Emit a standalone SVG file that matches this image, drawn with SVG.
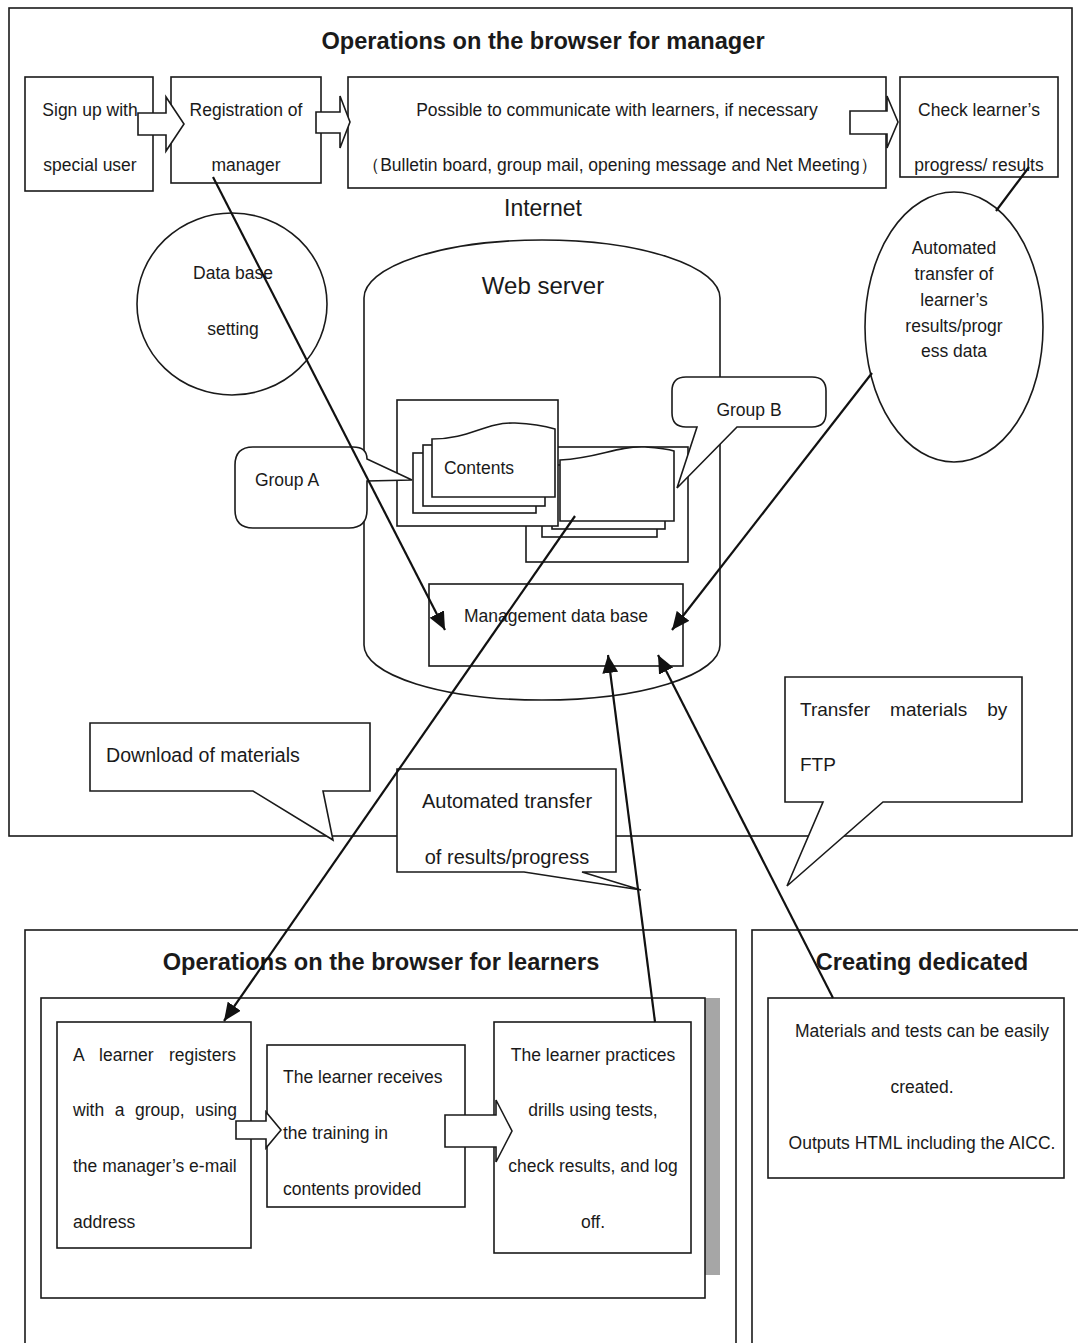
<svg xmlns="http://www.w3.org/2000/svg" width="1078" height="1343" viewBox="0 0 1078 1343">
<style>
text{font-family:"Liberation Sans",Arial,sans-serif;fill:#1a1a1a}
.t{font-size:17.5px}
.m{text-anchor:middle}
.h{font-size:23.6px;font-weight:bold;text-anchor:middle}
.b{fill:#fff;stroke:#1a1a1a;stroke-width:1.6}
.f{fill:none;stroke:#1a1a1a;stroke-width:1.6}
.c{fill:none;stroke:#111;stroke-width:2.2}
</style>
<defs>
<marker id="ah" markerUnits="userSpaceOnUse" markerWidth="20" markerHeight="16" refX="18" refY="8" orient="auto">
<path d="M0,0 L18,8 L0,16 Z" fill="#111"/>
</marker>
</defs>
<rect width="1078" height="1343" fill="#fff"/>

<g id="manager-frame">
<rect x="9" y="8" width="1063" height="828" class="f"/>
<text x="543" y="49" class="h">Operations on the browser for manager</text>
</g>

<g id="signup">
<rect x="25" y="77" width="128" height="114" class="b"/>
<text x="90" y="116" class="t m">Sign up with</text>
<text x="90" y="171" class="t m">special user</text>
</g>
<g id="registration">
<rect x="171" y="77" width="150" height="106" class="b"/>
<text x="246" y="116" class="t m">Registration of</text>
<text x="246" y="171" class="t m">manager</text>
</g>
<g id="communicate">
<rect x="348" y="77" width="538" height="111" class="b"/>
<text x="617" y="116" class="t m">Possible to communicate with learners, if necessary</text>
<text x="620" y="171" class="t m">（Bulletin board, group mail, opening message and Net Meeting）</text>
</g>
<g id="check">
<rect x="900" y="77" width="158" height="100" class="b"/>
<text x="979" y="116" class="t m">Check learner’s</text>
<text x="979" y="171" class="t m">progress/ results</text>
</g>
<g id="arrow-1"><polygon points="138,113 166,113 166,97 184,124 166,151 166,135 138,135" class="b"/></g>
<g id="arrow-2"><polygon points="316,112 340,112 340,96 350,122 340,148 340,133 316,133" class="b"/></g>
<g id="arrow-3"><polygon points="850,111 887,111 887,96 898,122 887,148 887,134 850,134" class="b"/></g>

<g id="internet"><text x="543" y="216" font-size="23" class="m">Internet</text></g>

<g id="dbsetting">
<ellipse cx="232" cy="304" rx="95" ry="91" class="b"/>
<text x="233" y="279" class="t m">Data base</text>
<text x="233" y="335" class="t m">setting</text>
</g>

<g id="webserver">
<path d="M364,298 L364,645 A178,55 0 0 0 720,645 L720,298" class="b"/>
<path d="M364,298 A178,58 0 0 1 720,298" class="f"/>
<text x="543" y="294" font-size="24" class="m">Web server</text>
</g>

<g id="groupB">
<rect x="526" y="447" width="162" height="115" class="b"/>
<rect x="542" y="470" width="115" height="67" class="b"/>
<rect x="552" y="465" width="113" height="64" class="b"/>
<path d="M560,460 C600,458 615,446 645,447 C660,448 668,449 674,451 L674,521 L560,521 Z" class="b"/>
</g>

<g id="groupA">
<rect x="397" y="400" width="161" height="126" class="b"/>
<rect x="413" y="453" width="123" height="60" class="b"/>
<rect x="423" y="445" width="122" height="61" class="b"/>
<path d="M432,439 C470,439 485,422 515,423 C535,424 548,427 555,429 L555,497 L432,497 Z" class="b"/>
<text x="479" y="474" class="t m">Contents</text>
</g>

<g id="callout-groupA">
<path d="M253,447 H353 Q367,447 367,459 L412,480 L367,481 V510 Q367,528 349,528 H253 Q235,528 235,510 V465 Q235,447 253,447 Z" class="b"/>
<text x="287" y="486" class="t m">Group A</text>
</g>
<g id="callout-groupB">
<path d="M686,377 H812 Q826,377 826,391 V413 Q826,427 812,427 H737 L677,488 L697,427 H686 Q672,427 672,413 V391 Q672,377 686,377 Z" class="b"/>
<text x="749" y="416" class="t m">Group B</text>
</g>

<g id="mgmtdb">
<rect x="429" y="584" width="254" height="82" class="b"/>
<text x="556" y="622" class="t m">Management data base</text>
</g>

<g id="autotransfer-ellipse">
<ellipse cx="954" cy="327" rx="89" ry="135" class="b"/>
<text x="954" y="254" class="t m">Automated</text>
<text x="954" y="280" class="t m">transfer of</text>
<text x="954" y="306" class="t m">learner’s</text>
<text x="954" y="332" class="t m">results/progr</text>
<text x="954" y="357" class="t m">ess data</text>
</g>

<g id="callout-download">
<path d="M90,723 H370 V791 H323 L333,840 L253,791 H90 Z" class="b"/>
<text x="106" y="762" font-size="19.6">Download of materials</text>
</g>
<g id="callout-results">
<path d="M397,769 H616 V872 H582 L641,890 L524,872 H397 Z" class="b"/>
<text x="507" y="808" font-size="20" class="m">Automated transfer</text>
<text x="507" y="864" font-size="20" class="m">of results/progress</text>
</g>
<g id="callout-ftp">
<path d="M785,677 H1022 V802 H883 L787,886 L823,802 H785 Z" class="b"/>
<text x="800" y="716" font-size="19" word-spacing="14.8">Transfer materials by</text>
<text x="800" y="771" font-size="19">FTP</text>
</g>

<g id="learners-frame">
<rect x="25" y="930" width="711" height="430" class="f"/>
<text x="381" y="970" class="h">Operations on the browser for learners</text>
<rect x="705" y="998" width="15" height="277" fill="#a6a6a6"/>
<rect x="41" y="998" width="664" height="300" class="f"/>
</g>
<g id="learner-register">
<rect x="57" y="1022" width="194" height="226" class="b"/>
<text x="73" y="1061" class="t" word-spacing="10.5">A learner registers</text>
<text x="73" y="1116" class="t" word-spacing="5.7">with a group, using</text>
<text x="73" y="1172" class="t">the manager’s e-mail</text>
<text x="73" y="1228" class="t">address</text>
</g>
<g id="learner-receive">
<rect x="267" y="1045" width="198" height="162" class="b"/>
<text x="283" y="1083" class="t">The learner receives</text>
<text x="283" y="1139" class="t">the training in</text>
<text x="283" y="1195" class="t">contents provided</text>
</g>
<g id="learner-practice">
<rect x="494" y="1022" width="197" height="231" class="b"/>
<text x="593" y="1061" class="t m">The learner practices</text>
<text x="593" y="1116" class="t m">drills using tests,</text>
<text x="593" y="1172" class="t m">check results, and log</text>
<text x="593" y="1228" class="t m">off.</text>
</g>
<g id="arrow-4"><polygon points="236,1121 266,1121 266,1112 281,1130 266,1148 266,1139 236,1139" class="b"/></g>
<g id="arrow-5"><polygon points="445,1115 496,1115 496,1100 512,1131 496,1162 496,1147 445,1147" class="b"/></g>

<g id="creating-frame">
<rect x="752" y="930" width="340" height="430" class="f"/>
<text x="922" y="970" class="h">Creating dedicated</text>
</g>
<g id="creating-box">
<rect x="768" y="998" width="296" height="180" class="b"/>
<text x="922" y="1037" class="t m">Materials and tests can be easily</text>
<text x="922" y="1093" class="t m">created.</text>
<text x="922" y="1149" class="t m">Outputs HTML including the AICC.</text>
</g>

<g id="connectors">
<line x1="213" y1="177" x2="445" y2="630" class="c" marker-end="url(#ah)"/>
<line x1="1029" y1="167" x2="996" y2="211" class="c"/>
<line x1="872" y1="373" x2="672" y2="630" class="c" marker-end="url(#ah)"/>
<line x1="575" y1="516" x2="224" y2="1021" class="c" marker-end="url(#ah)"/>
<line x1="655" y1="1022" x2="608" y2="655" class="c" marker-end="url(#ah)"/>
<line x1="833" y1="998" x2="658" y2="655" class="c" marker-end="url(#ah)"/>
</g>
</svg>
